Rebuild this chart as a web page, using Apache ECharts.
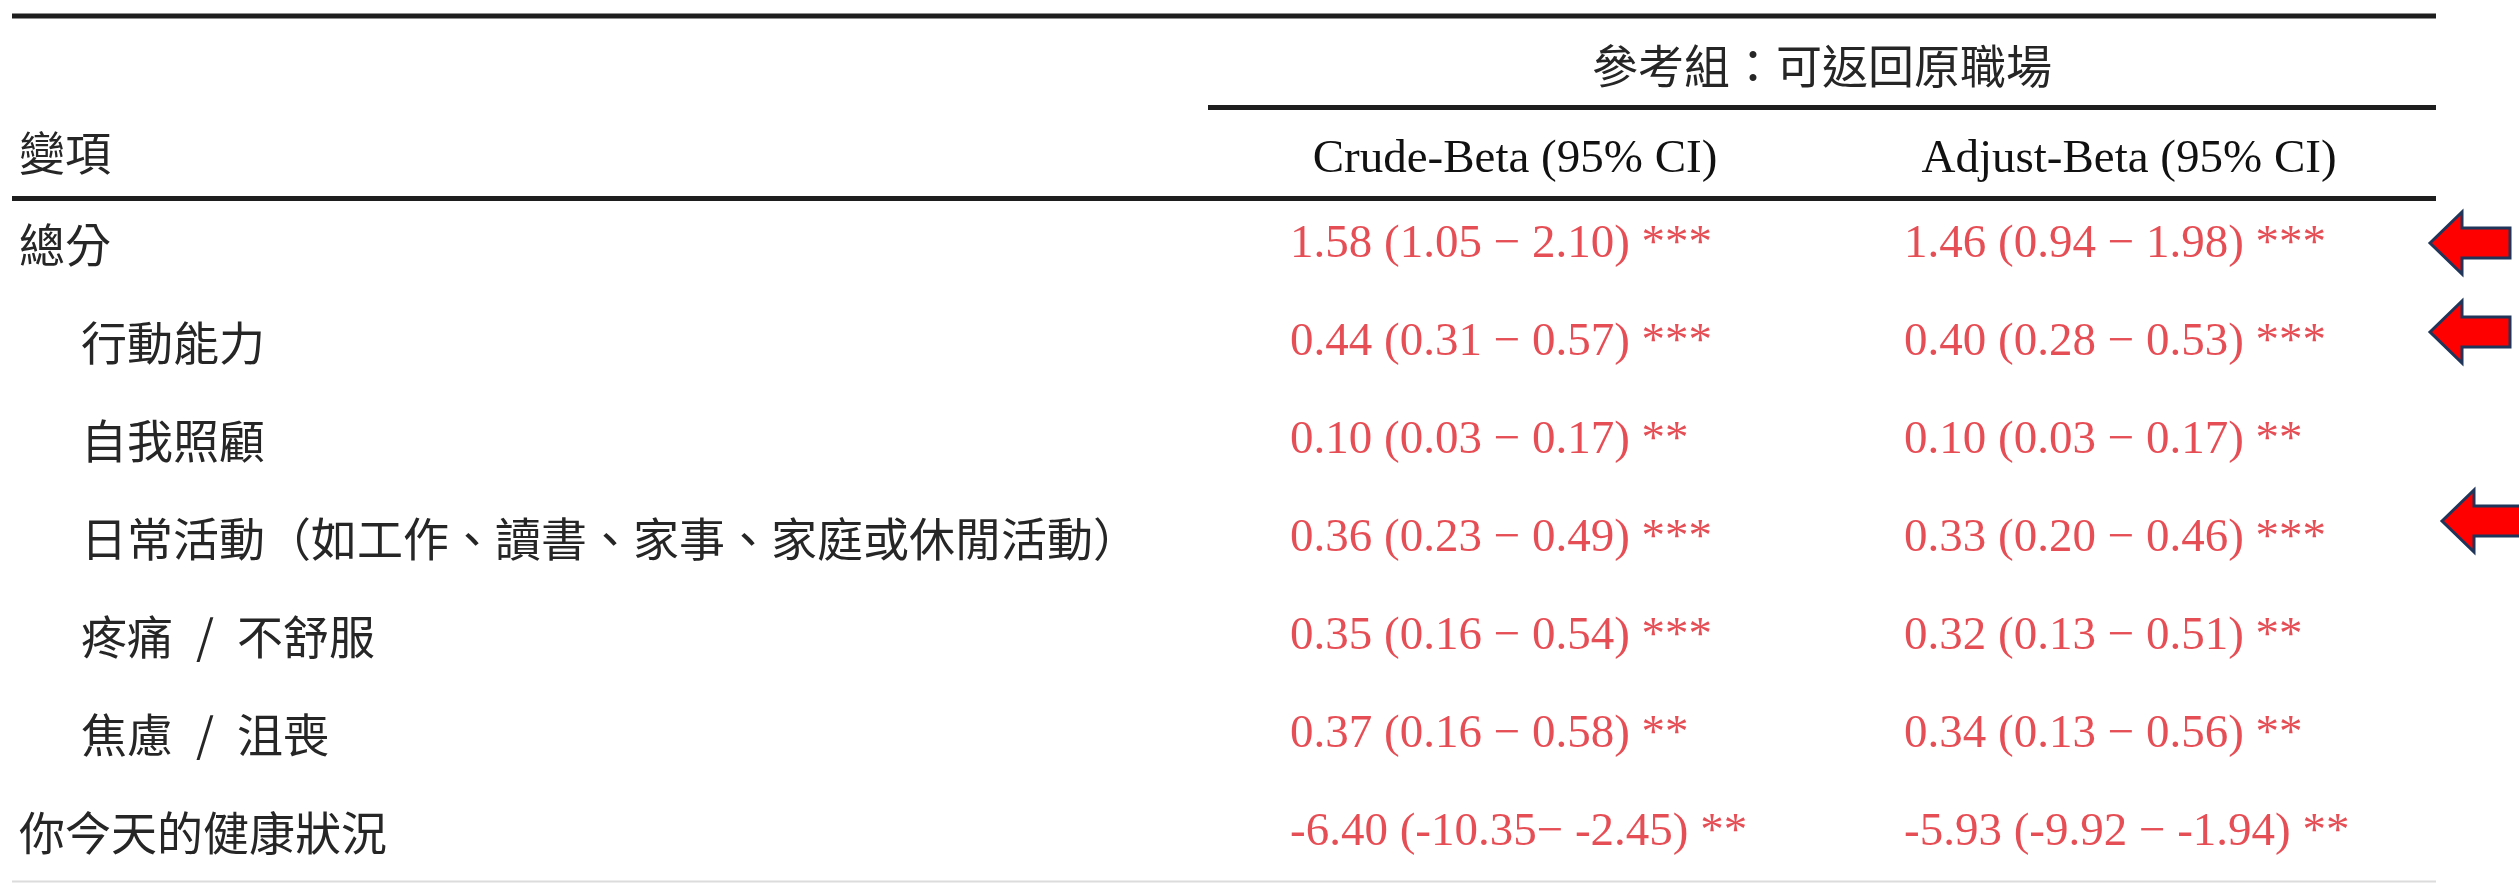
<!DOCTYPE html>
<html>
<head>
<meta charset="utf-8">
<script src="https://cdn.jsdelivr.net/npm/echarts@6/dist/echarts.min.js"></script>
<style>
html,body{margin:0;padding:0;background:#fff;}
#chart{width:2519px;height:883px;}
</style>
</head>
<body>
<div id="chart"></div>
<script>
// ---- data ----
const groupTitle = '參考組：可返回原職場';
const columnTitles = ['Crude-Beta (95% CI)', 'Adjust-Beta (95% CI)'];
const varHeader = '變項';
const categories = ['總分', '行動能力', '自我照顧', '日常活動（如工作、讀書、家事、家庭或休閒活動）', '疼痛\u2002/\u2002不舒服', '焦慮\u2002/\u2002沮喪', '你今天的健康狀況'];
const indented = [false, true, true, true, true, true, false];
const crudeBeta = [1.58, 0.44, 0.10, 0.36, 0.35, 0.37, -6.40];
const crudeLow  = [1.05, 0.31, 0.03, 0.23, 0.16, 0.16, -10.35];
const crudeHigh = [2.10, 0.57, 0.17, 0.49, 0.54, 0.58, -2.45];
const crudeSig  = ['***', '***', '**', '***', '***', '**', '**'];
const crudeSep  = [' − ', ' − ', ' − ', ' − ', ' − ', ' − ', '− '];
const adjBeta = [1.46, 0.40, 0.10, 0.33, 0.32, 0.34, -5.93];
const adjLow  = [0.94, 0.28, 0.03, 0.20, 0.13, 0.13, -9.92];
const adjHigh = [1.98, 0.53, 0.17, 0.46, 0.51, 0.56, -1.94];
const adjSig  = ['***', '***', '**', '***', '**', '**', '**'];
const adjSep  = [' − ', ' − ', ' − ', ' − ', ' − ', ' − ', ' − '];
const arrowRows = [0, 1, 3];

// ---- layout / style ----
const W = 2519, H = 883;
const tableLeft = 12, tableRight = 2436, colStart = 1208;
const gridTop = 196, gridBottom = 1;
const cjk = '"Noto Sans CJK TC", "Noto Sans CJK SC", sans-serif';
const serif = '"Liberation Serif", "DejaVu Serif", serif';
const textColor = '#262626';
const red = '#e0222b';
const arrowNudge = {0: [-6, -2], 1: [-6, -11], 3: [6, -18]};

function fmt(b, l, h, sep, s) {
  return b.toFixed(2) + ' (' + l.toFixed(2) + sep + h.toFixed(2) + ') ' + s;
}

const chart = echarts.init(document.getElementById('chart'), null, {renderer: 'canvas'});

const valueLabel = {
  show: true, position: 'inside', align: 'left', verticalAlign: 'middle',
  offset: [-225, 0], color: red, fontFamily: serif, fontSize: 47
};

chart.setOption({
  backgroundColor: '#ffffff',
  animation: false,
  grid: {left: colStart, right: W - tableRight, top: gridTop, bottom: gridBottom, containLabel: false},
  xAxis: [
    {
      type: 'category', position: 'top', data: columnTitles,
      axisLine: {show: false}, axisTick: {show: false}, splitLine: {show: false},
      axisLabel: {margin: 36, verticalAlign: 'middle', color: '#111', fontFamily: serif, fontSize: 47, interval: 0}
    },
    {
      type: 'category', position: 'top', data: [groupTitle],
      axisLine: {show: false}, axisTick: {show: false}, splitLine: {show: false},
      axisLabel: {margin: 130, verticalAlign: 'middle', color: textColor, fontFamily: cjk, fontSize: 46, interval: 0}
    }
  ],
  yAxis: {
    type: 'category', inverse: true, data: categories,
    axisLine: {show: false}, axisTick: {show: false}, splitLine: {show: false},
    axisLabel: {
      margin: colStart - 19, align: 'left', verticalAlign: 'middle', interval: 0,
      color: textColor, fontFamily: cjk, fontSize: 46,
      formatter: function (v, i) { return indented[i] ? '{ind|' + v + '}' : '{top|' + v + '}'; },
      rich: {
        ind: {padding: [0, 0, 0, 62], color: textColor, fontFamily: cjk, fontSize: 46},
        top: {color: textColor, fontFamily: cjk, fontSize: 46}
      }
    }
  },
  series: [
    {
      type: 'scatter', xAxisIndex: 0, yAxisIndex: 0, symbolSize: 1,
      itemStyle: {color: 'rgba(0,0,0,0)'},
      data: categories.map((c, i) => [0, i]),
      label: Object.assign({}, valueLabel, {
        formatter: p => fmt(crudeBeta[p.dataIndex], crudeLow[p.dataIndex], crudeHigh[p.dataIndex], crudeSep[p.dataIndex], crudeSig[p.dataIndex])
      })
    },
    {
      type: 'scatter', xAxisIndex: 0, yAxisIndex: 0, symbolSize: 1,
      itemStyle: {color: 'rgba(0,0,0,0)'},
      data: categories.map((c, i) => [1, i]),
      label: Object.assign({}, valueLabel, {
        formatter: p => fmt(adjBeta[p.dataIndex], adjLow[p.dataIndex], adjHigh[p.dataIndex], adjSep[p.dataIndex], adjSig[p.dataIndex])
      })
    },
    {
      type: 'custom', xAxisIndex: 0, yAxisIndex: 0, clip: false,
      data: arrowRows.map(r => [1, r]),
      renderItem: function (params, api) {
        const row = api.value(1);
        const c = api.coord([1, row]);
        const n = arrowNudge[row] || [0, 0];
        const tipX = tableRight + n[0];
        const cy = c[1] + n[1];
        const headLen = 32, headHalf = 31, bodyHalf = 15, bodyLen = 48;
        const pts = [
          [tipX, cy],
          [tipX + headLen, cy - headHalf],
          [tipX + headLen, cy - bodyHalf],
          [tipX + headLen + bodyLen, cy - bodyHalf],
          [tipX + headLen + bodyLen, cy + bodyHalf],
          [tipX + headLen, cy + bodyHalf],
          [tipX + headLen, cy + headHalf]
        ];
        return {
          type: 'polygon', shape: {points: pts},
          style: {fill: '#ff0000', stroke: '#1f3559', lineWidth: 3}
        };
      }
    }
  ],
  graphic: [
    {type: 'line', z: 10, shape: {x1: tableLeft, y1: 16, x2: tableRight, y2: 16}, style: {stroke: '#1e1e1e', lineWidth: 5}},
    {type: 'line', z: 10, shape: {x1: colStart, y1: 107.5, x2: tableRight, y2: 107.5}, style: {stroke: '#1e1e1e', lineWidth: 5}},
    {type: 'line', z: 10, shape: {x1: tableLeft, y1: 198.5, x2: tableRight, y2: 198.5}, style: {stroke: '#1e1e1e', lineWidth: 5}},
    {type: 'line', z: 10, shape: {x1: tableLeft, y1: 881.5, x2: tableRight, y2: 881.5}, style: {stroke: '#dcdcdc', lineWidth: 2}},
    {type: 'text', z: 10, x: 19, y: 153, style: {text: varHeader, fill: textColor, font: '46px ' + cjk, textVerticalAlign: 'middle', verticalAlign: 'middle'}}
  ]
});
</script>
</body>
</html>
